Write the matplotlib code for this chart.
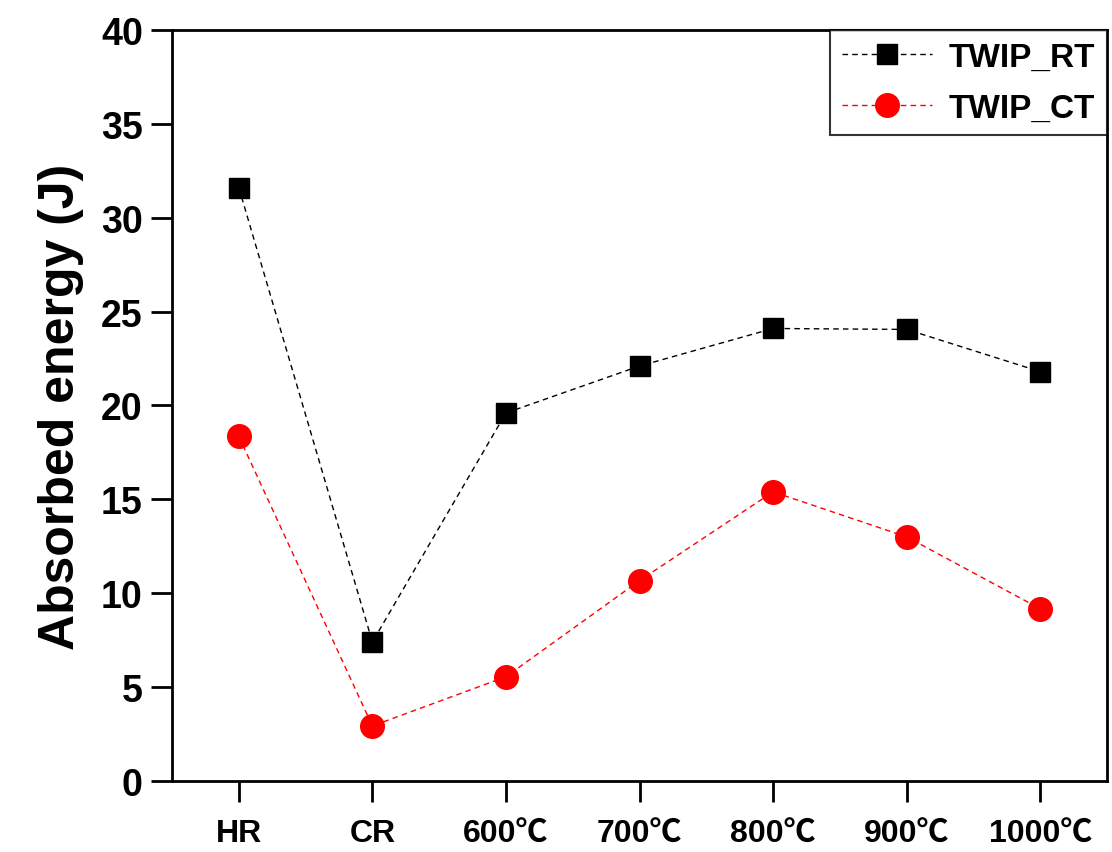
import matplotlib
matplotlib.use("Agg")
import matplotlib.pyplot as plt

categories = ["HR", "CR", "600℃", "700℃", "800℃", "900℃", "1000℃"]
twip_rt = [31.6, 7.4, 19.6, 22.1, 24.1, 24.05, 21.8]
twip_ct = [18.35, 2.93, 5.55, 10.67, 15.4, 13.0, 9.17]
y_ticks = [0, 5, 10, 15, 20, 25, 30, 35, 40]

fonts = ["Liberation Sans", "Noto Sans CJK KR", "DejaVu Sans"]
plt.rcParams["font.family"] = fonts
plt.rcParams["font.weight"] = "bold"

fig = plt.figure(figsize=(11.12, 8.53), dpi=100)
ax = fig.add_axes([0.1547, 0.0833, 0.8408, 0.8804])

x = list(range(1, len(categories) + 1))
ax.plot(x, twip_rt, color="black", linestyle=(0, (4, 3)), linewidth=1.0,
        marker="s", markersize=15, markerfacecolor="black",
        markeredgecolor="black", label="TWIP_RT")
ax.plot(x, twip_ct, color="red", linestyle=(0, (4, 3)), linewidth=1.0,
        marker="o", markersize=17, markerfacecolor="red",
        markeredgecolor="red", label="TWIP_CT")

ax.set_xlim(0.5, 7.5)
ax.set_ylim(0, 40)
ax.set_xticks(x)
ax.set_xticklabels(categories, fontsize=23, fontweight="bold")
ax.set_yticks(y_ticks)
ax.set_yticklabels([str(v) for v in y_ticks], fontsize=27, fontweight="bold")
ax.tick_params(axis="both", direction="out", length=15, width=2)
ax.tick_params(axis="x", pad=12)
ax.tick_params(axis="y", pad=6)

for s in ax.spines.values():
    s.set_linewidth(2)

ax.set_ylabel("Absorbed energy (J)", fontsize=36, fontweight="bold", labelpad=12)

leg = ax.legend(loc="upper right", fontsize=24, frameon=True, fancybox=False,
                borderaxespad=0.0, handlelength=2.7, borderpad=0.35,
                labelspacing=0.6, handletextpad=0.5)
leg.get_frame().set_edgecolor("black")
leg.get_frame().set_linewidth(1.5)
for t in leg.get_texts():
    t.set_fontweight("bold")

fig.savefig("out.png", dpi=100)
